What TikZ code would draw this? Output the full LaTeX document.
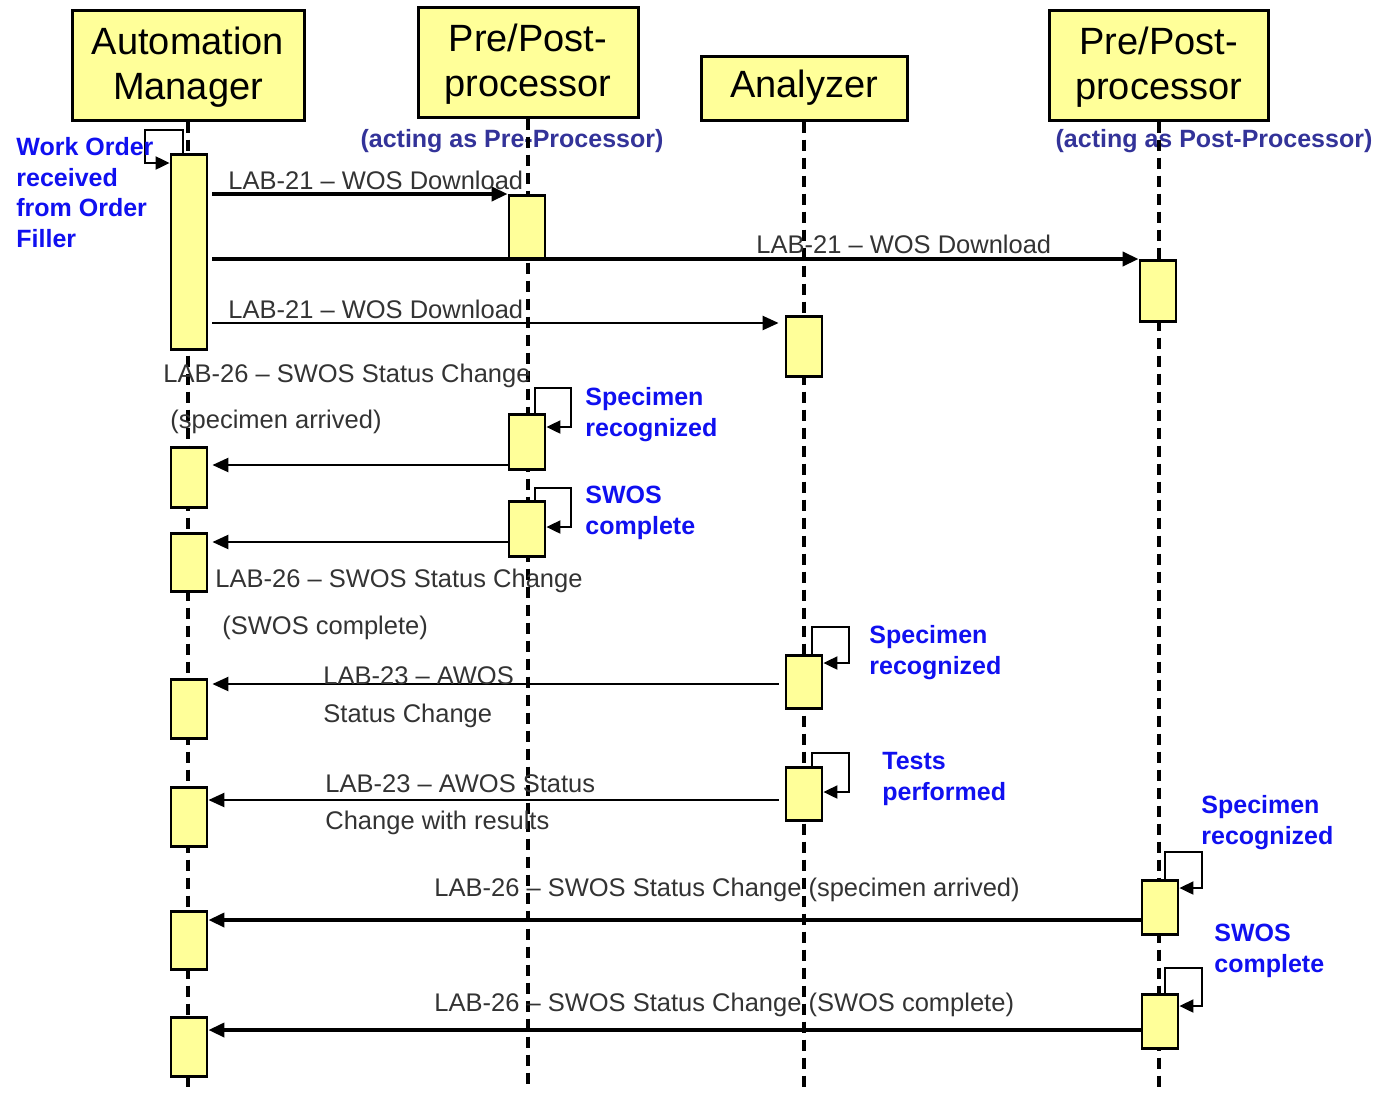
\documentclass[tikz,border=0pt]{standalone}
\usepackage{fontspec}
\setmainfont{Liberation Sans}
\usetikzlibrary{arrows.meta}

\definecolor{boxyellow}{RGB}{255,255,153}
\definecolor{notecol}{RGB}{16,16,240}
\definecolor{rolecol}{RGB}{51,51,153}

\begin{document}
\begin{tikzpicture}[x=0.5pt,y=-0.5pt,
    actor/.style={draw, line width=1.5pt, fill=boxyellow, inner sep=0pt, align=center,
                  font=\fontsize{19}{22.5}\selectfont},
    act/.style={draw, line width=1.4pt, fill=boxyellow, minimum width=18pt, inner sep=0pt, anchor=north},
    life/.style={line width=2pt, dash pattern=on 5.5pt off 3.5pt},
    msg/.style={line width=1.2pt, -{Triangle[length=8pt,width=7pt]}},
    bigmsg/.style={msg, line width=1.8pt},
    selfmsg/.style={line width=1pt, -{Triangle[length=7pt,width=6.5pt]}},
    lbl/.style={inner sep=0pt, align=left, text=black!80, font=\fontsize{12.75}{15}\selectfont},
    note/.style={inner sep=0pt, anchor=north west, align=left, text=notecol,
                 font=\bfseries\fontsize{12.5}{15.3}\selectfont},
    role/.style={inner sep=0pt, text=rolecol, font=\bfseries\fontsize{12.5}{15}\selectfont}]
    \useasboundingbox (0,0) rectangle (1379,1093);

    % participants
    \node[actor, minimum width=116pt, minimum height=55pt] (am) at (188,65) {\strut Automation\\Manager};
    \node[actor, minimum width=110pt, minimum height=55pt] (pre) at (528,62) {\strut Pre/Post-\\processor};
    \node[actor, minimum width=103pt, minimum height=32pt] (an) at (804,88) {Analyzer};
    \node[actor, minimum width=109.5pt, minimum height=55pt] (post) at (1158.5,65) {\strut Pre/Post-\\processor};
    \node[role] (prerole) at (512,141) {(acting as Pre-Processor)};
    \node[role] (postrole) at (1214,141) {(acting as Post-Processor)};

    % lifelines
    \foreach \p in {am,pre,an,post}
        \draw[life] (\p.south) -- (\p.south |- 0,1090);

    % activations
    \node[act, minimum height=97.5pt] (am1) at (189,153) {};
    \node[act, minimum height=30pt] (am2) at (189,446) {};
    \node[act, minimum height=29pt] (am3) at (189,532) {};
    \node[act, minimum height=29.5pt] (am4) at (189,678) {};
    \node[act, minimum height=29.5pt] (am5) at (189,786) {};
    \node[act, minimum height=29pt] (am6) at (189,910) {};
    \node[act, minimum height=29.5pt] (am7) at (189,1016) {};
    \node[act, minimum height=31.5pt] (pre1) at (527,194) {};
    \node[act, minimum height=27.5pt] (pre2) at (527,413) {};
    \node[act, minimum height=27.5pt] (pre3) at (527,500) {};
    \node[act, minimum height=30pt] (an1) at (804,315) {};
    \node[act, minimum height=26.5pt] (an2) at (804,654) {};
    \node[act, minimum height=26.5pt] (an3) at (804,766) {};
    \node[act, minimum height=30.5pt] (post1) at (1158,259) {};
    \node[act, minimum height=27pt] (post2) at (1160,879) {};
    \node[act, minimum height=27pt] (post3) at (1160,993) {};

    % self calls
    \draw[selfmsg] ([xshift=-3pt]am1.north) |- ++(-38,-23) |- (am1.west |- 0,163);
    \draw[selfmsg] ([xshift=4pt]pre2.north) |- ++(36,-25) |- (pre2.east |- 0,427);
    \draw[selfmsg] ([xshift=4pt]pre3.north) |- ++(36,-12) |- (pre3.east |- 0,527);
    \draw[selfmsg] ([xshift=4pt]an2.north) |- ++(37,-27) |- (an2.east |- 0,663);
    \draw[selfmsg] ([xshift=4pt]an3.north) |- ++(37,-13) |- (an3.east |- 0,792);
    \draw[selfmsg] ([xshift=2.5pt]post2.north) |- ++(37,-27) |- (post2.east |- 0,888);
    \draw[selfmsg] ([xshift=2.5pt]post3.north) |- ++(37,-25) |- (post3.east |- 0,1006);

    % messages
    \draw[bigmsg] ([xshift=2pt]am1.east |- pre1.north) -- (pre1.north west);
    \draw[bigmsg] ([xshift=2pt]am1.east |- post1.north) -- (post1.north west);
    \draw[msg] ([xshift=2pt]am1.east |- 0,323) -- ([xshift=-3pt]an1.west |- 0,323);
    \draw[msg, shorten >=2pt] (pre2.west |- 0,465) -- (am2.east |- 0,465);
    \draw[msg, shorten >=2pt] (pre3.west |- 0,542) -- (am3.east |- 0,542);
    \draw[msg, shorten >=2pt] ([xshift=-3pt]an2.west |- 0,684) -- (am4.east |- 0,684);
    \draw[msg] ([xshift=-3pt]an3.west |- 0,800) -- (am5.east |- 0,800);
    \draw[bigmsg] (post2.west |- 0,920) -- (am6.east |- 0,920);
    \draw[bigmsg] (post3.west |- 0,1030) -- (am7.east |- 0,1030);

    % message labels
    \node[lbl, anchor=west] (l1) at (228,180) {LAB-21 -- WOS Download};
    \node[lbl, anchor=west] (l2) at (756,244) {LAB-21 -- WOS Download};
    \node[lbl, anchor=west] (l3) at (228,309) {LAB-21 -- WOS Download};
    \node[lbl, anchor=north west, font=\fontsize{12.75}{23}\selectfont] (l4) at (163,364)
        {LAB-26 -- SWOS Status Change\\ \hspace*{3.5pt}(specimen arrived)};
    \node[lbl, anchor=north west, font=\fontsize{12.75}{23.5}\selectfont] (l5) at (215,569)
        {LAB-26 -- SWOS Status Change\\ \hspace*{3.5pt}(SWOS complete)};
    \node[lbl, anchor=north west, font=\fontsize{12.75}{19}\selectfont] (l6) at (323,666)
        {LAB-23 -- AWOS\\Status Change};
    \node[lbl, anchor=north west, font=\fontsize{12.75}{18.5}\selectfont] (l7) at (325,774)
        {LAB-23 -- AWOS Status\\Change with results};
    \node[lbl, anchor=west] (l8) at (434,890) {LAB-26 -- SWOS Status Change (specimen arrived)};
    \node[lbl, anchor=west] (l9) at (434,1005) {LAB-26 -- SWOS Status Change (SWOS complete)};

    % notes
    \node[note] (n1) at (16,137) {Work Order\\received\\from Order\\Filler};
    \node[note] (n2) at (585,387) {Specimen\\recognized};
    \node[note] (n3) at (585,486) {SWOS\\complete};
    \node[note] (n4) at (869,625) {Specimen\\recognized};
    \node[note] (n5) at (882,752) {Tests\\performed};
    \node[note] (n6) at (1201,795) {Specimen\\recognized};
    \node[note] (n7) at (1214,924) {SWOS\\complete};
\end{tikzpicture}
\end{document}
